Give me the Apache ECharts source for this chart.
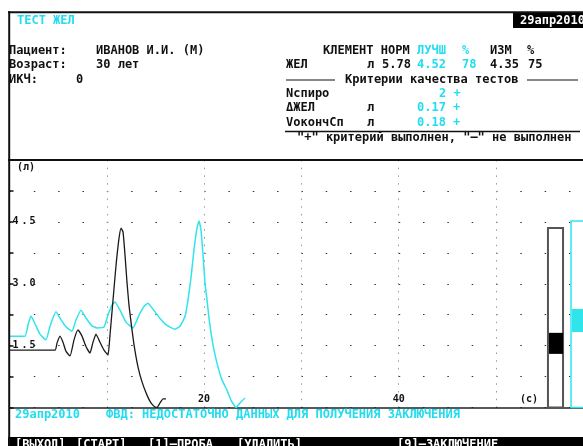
<!DOCTYPE html>
<html>
<head>
<meta charset="utf-8">
<script src="https://cdn.jsdelivr.net/npm/echarts@6/dist/echarts.min.js"></script>
<style>
  body { margin: 0; background: #fff; }
  #chart { width: 583px; height: 446px; }
</style>
</head>
<body>
<div id="chart"></div>
<script>
// measured curve (ИЗМ), seconds / litres
const measT = [0, 4.68, 4.88, 5.19, 5.50, 5.81, 6.22, 6.63, 7.04, 7.45, 7.86, 8.27, 8.58, 8.89, 9.30, 9.71, 10.12, 10.33, 10.64, 10.95, 11.26, 11.47, 11.67, 11.87, 12.08, 12.28, 12.49, 12.80, 13.21, 13.62, 14.13, 14.54, 14.95, 15.16, 15.47, 15.78, 16.09];
const measV = [1.39, 1.39, 1.56, 1.73, 1.58, 1.36, 1.25, 1.64, 1.88, 1.73, 1.48, 1.32, 1.58, 1.78, 1.58, 1.39, 1.27, 1.76, 2.61, 3.45, 4.11, 4.35, 4.25, 3.70, 3.02, 2.48, 2.07, 1.52, 0.98, 0.62, 0.30, 0.11, 0.01, 0.0, 0.11, 0.21, 0.21];
// best curve (ЛУЧШ)
const bestT = [0, 1.59, 1.90, 2.21, 2.62, 3.13, 3.75, 4.16, 4.78, 5.29, 5.81, 6.42, 6.83, 7.35, 7.86, 8.48, 8.99, 9.71, 10.12, 10.53, 10.84, 11.36, 11.97, 12.69, 13.31, 13.82, 14.23, 14.75, 15.47, 16.19, 17.01, 17.52, 18.04, 18.35, 18.65, 18.96, 19.27, 19.48, 19.68, 19.89, 20.09, 20.30, 20.50, 20.71, 21.02, 21.43, 21.84, 22.35, 22.76, 23.07, 23.28, 23.69, 24.20];
const bestV = [1.73, 1.73, 2.00, 2.22, 2.03, 1.78, 1.64, 1.97, 2.32, 2.13, 1.95, 1.85, 2.12, 2.36, 2.17, 1.98, 1.93, 1.95, 2.24, 2.48, 2.56, 2.36, 2.07, 1.93, 2.24, 2.45, 2.53, 2.38, 2.16, 1.99, 1.90, 1.97, 2.21, 2.61, 3.14, 3.82, 4.35, 4.52, 4.30, 3.70, 3.02, 2.61, 2.17, 1.81, 1.39, 0.98, 0.67, 0.42, 0.18, 0.06, 0.0, 0.11, 0.23];
// gauge bars at the right: [measured, best]
const gaugeTop = [4.35, 4.52];
const gaugeLo = [1.30, 1.83];
const gaugeHi = [1.81, 2.39];
const xLabels = [20, 40];
const yLabels = [1.5, 3.0, 4.5];

const CYAN = '#22dcf0';
const LINE_CYAN = '#30e4ec';
const INK = '#111';
const MONO = '"DejaVu Sans Mono", "Liberation Mono", monospace';
const F = 'bold 12px ' + MONO;
const FS = 'bold 10px ' + MONO;

const chart = echarts.init(document.getElementById('chart'));

function txt(s, x, y, fill, font) {
  return { type: 'text', silent: true, z: 10, style: { text: s, x: x, y: y, fill: fill || INK, font: font || F, verticalAlign: 'middle' } };
}
function hline(x1, x2, y, w, c) {
  return { type: 'line', silent: true, z: 9, shape: { x1: x1, y1: y, x2: x2, y2: y }, style: { stroke: c || INK, lineWidth: w || 1.5 } };
}

const gaugeX = [[55.34, 56.89], [57.71, 61]];
const gaugeData = gaugeTop.map((t, i) => [gaugeX[i][0], gaugeX[i][1], t, gaugeLo[i], gaugeHi[i], i]);

const graphic = [
  { type: 'rect', silent: true, z: 8, shape: { x: 513, y: 13, width: 72, height: 15 }, style: { fill: '#000' } },
  { type: 'rect', silent: true, z: 8, shape: { x: 8, y: 437, width: 580, height: 12 }, style: { fill: '#000' } },
  hline(8, 583, 12.3, 2),
  { type: 'line', silent: true, z: 9, shape: { x1: 9.2, y1: 11.3, x2: 9.2, y2: 446 }, style: { stroke: INK, lineWidth: 2 } },
  hline(8, 583, 160, 2),
  hline(286, 335, 80, 1.2),
  hline(527, 578, 80, 1.2),
  hline(285, 580, 131.5, 1.5),
  txt('ТЕСТ ЖЕЛ', 17, 21, CYAN),
  txt('29апр2010', 520, 21, '#fff'),
  txt('Пациент:', 9, 51),
  txt('ИВАНОВ И.И. (М)', 96, 51),
  txt('Возраст:', 9, 64.5),
  txt('30 лет', 96, 64.5),
  txt('ИКЧ:', 9, 79.5),
  txt('0', 76, 79.5),
  txt('КЛЕМЕНТ НОРМ', 323, 51),
  txt('ЛУЧШ', 417, 51, CYAN),
  txt('%', 462, 51, CYAN),
  txt('ИЗМ', 490, 51),
  txt('%', 527, 51),
  txt('ЖЕЛ', 286, 64.5),
  txt('л', 367, 64.5),
  txt('5.78', 382, 64.5),
  txt('4.52', 417, 64.5, CYAN),
  txt('78', 462, 64.5, CYAN),
  txt('4.35', 490, 64.5),
  txt('75', 528, 64.5),
  txt('Критерии качества тестов', 345, 79.5),
  txt('Nспиро', 286, 94),
  txt('2 +', 439, 94, CYAN),
  txt('ΔЖЕЛ', 286, 108),
  txt('л', 367, 108),
  txt('0.17 +', 417, 108, CYAN),
  txt('VокончСп', 286, 122.5),
  txt('л', 367, 122.5),
  txt('0.18 +', 417, 122.5, CYAN),
  txt('"+" критерий выполнен, "–" не выполнен', 297, 137.5),
  txt('(л)', 17, 167, INK, FS),
  txt('(с)', 520, 399, INK, FS),
  txt('29апр2010', 15, 415, CYAN),
  txt('ФВД: НЕДОСТАТОЧНО ДАННЫХ ДЛЯ ПОЛУЧЕНИЯ ЗАКЛЮЧЕНИЯ', 106, 415, CYAN),
  txt('[ВЫХОД]', 15, 445, '#fff'),
  txt('[СТАРТ]', 76, 445, '#fff'),
  txt('[1]–ПРОБА', 148, 445, '#fff'),
  txt('[УДАЛИТЬ]', 237, 445, '#fff'),
  txt('[9]–ЗАКЛЮЧЕНИЕ', 397, 445, '#fff')
];

chart.setOption({
  animation: false,
  backgroundColor: '#fff',
  grid: { left: 9.5, top: 160, right: -10.3, bottom: 38.5, containLabel: false, outerBoundsMode: 'none' },
  xAxis: {
    type: 'value', min: 0, max: 60, interval: 10,
    axisLine: { show: true, lineStyle: { color: '#222', width: 1.5 } },
    axisTick: { show: false },
    axisLabel: {
      inside: true, margin: 3, color: INK, fontFamily: MONO, fontWeight: 'bold', fontSize: 10,
      formatter: v => xLabels.includes(v) ? String(v) : ''
    },
    splitLine: { show: true, lineStyle: { color: '#999', width: 1, type: [1.5, 6.2] } }
  },
  yAxis: {
    type: 'value', min: 0, max: 6, interval: 0.75,
    axisLine: { show: false },
    axisTick: { show: true, inside: true, length: 4, lineStyle: { color: INK, width: 1.5 } },
    axisLabel: {
      inside: true, margin: 3, color: INK, fontFamily: MONO, fontWeight: 'bold', fontSize: 10,
      formatter: v => {
        if (!yLabels.some(l => Math.abs(l - v) < 1e-6)) return '';
        const s = v.toFixed(1);
        return '{d|' + s[0] + '}{p|.}{d|' + s[2] + '}';
      },
      rich: {
        d: { width: 7, fontFamily: MONO, fontWeight: 'bold', fontSize: 10, color: INK },
        p: { width: 8, padding: [0, 0, 0, 2], fontFamily: MONO, fontWeight: 'bold', fontSize: 10, color: INK }
      }
    },
    splitLine: { show: true, lineStyle: { color: '#333', width: 1.2, type: [1.5, 22.825] } }
  },
  series: [
    {
      type: 'line', data: bestT.map((t, i) => [t, bestV[i]]),
      showSymbol: false, smooth: 0.15, lineStyle: { color: LINE_CYAN, width: 1.5 }, z: 3
    },
    {
      type: 'line', data: measT.map((t, i) => [t, measV[i]]),
      showSymbol: false, smooth: 0.15, lineStyle: { color: '#1a1a1a', width: 1.3 }, z: 4
    },
    {
      type: 'custom', clip: false, z: 5,
      data: gaugeData,
      renderItem: (params, api) => {
        const x0 = api.value(0), x1 = api.value(1);
        const top = api.coord([x0, api.value(2)]);
        const bot = api.coord([x1, 0]);
        const hi = api.coord([x0, api.value(4)]);
        const lo = api.coord([x1, api.value(3)]);
        const isBest = api.value(5) === 1;
        return {
          type: 'group',
          children: [
            { type: 'rect', shape: { x: top[0], y: top[1], width: bot[0] - top[0], height: bot[1] - top[1] },
              style: { fill: isBest ? 'none' : '#fff', stroke: isBest ? LINE_CYAN : '#555', lineWidth: isBest ? 1.5 : 2 } },
            { type: 'rect', shape: { x: hi[0] + 1, y: hi[1], width: lo[0] - hi[0] - 1, height: lo[1] - hi[1] },
              style: { fill: isBest ? LINE_CYAN : '#000' } }
          ]
        };
      }
    }
  ],
  graphic: graphic
});
</script>
</body>
</html>
